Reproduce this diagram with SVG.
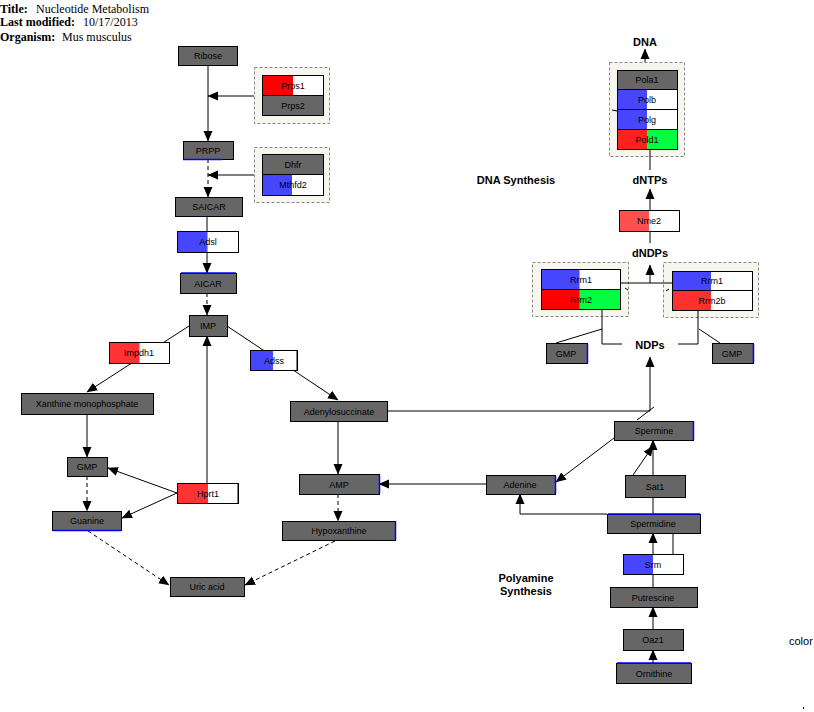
<svg xmlns="http://www.w3.org/2000/svg" width="814" height="712" viewBox="0 0 814 712">
<style>
  .box{fill:#666;stroke:#000;stroke-width:1}
  .frame{fill:none;stroke:#000;stroke-width:1}
  .wh{fill:#fff}
  .lbl{font-family:"Liberation Sans",Arial,sans-serif;font-size:9px;text-anchor:middle;fill:#000}
  .big{font-family:"Liberation Sans",Arial,sans-serif;font-size:11px;font-weight:bold;text-anchor:middle;fill:#000}
  .hdr{font-family:"Liberation Serif","Times New Roman",serif;font-size:12px;fill:#000}
  .hb{font-weight:bold}
  .note{font-family:"Liberation Sans",Arial,sans-serif;font-size:11px;fill:#000}
  .e{stroke:#000;stroke-width:1;fill:none}
  .d{stroke-dasharray:4,3}
  .grp{fill:#f6f5ee;stroke:#888;stroke-width:1;stroke-dasharray:3,2}
  .blue{stroke:#0000ff;stroke-width:1.5}
  .red{fill:#ff0000}.red2{fill:#ff3333}.pink{fill:#ff5050}
  .bl{fill:#4646ff}.gr{fill:#00ff40}
</style>
<defs>
  <marker id="ah" markerWidth="11" markerHeight="10" refX="10" refY="5" orient="auto" markerUnits="userSpaceOnUse">
    <path d="M0,0.5 L10.5,5 L0,9.5 z" fill="#000"/>
  </marker>
</defs>

<!-- header -->
<g id="header">
  <text class="hdr hb" x="0" y="13">Title:</text>
  <text class="hdr" x="36" y="13">Nucleotide Metabolism</text>
  <text class="hdr hb" x="0" y="26">Last modified:</text>
  <text class="hdr" x="83" y="26">10/17/2013</text>
  <text class="hdr hb" x="0" y="41">Organism:</text>
  <text class="hdr" x="62" y="41">Mus musculus</text>
</g>

<!-- complex outlines -->
<g id="groups">
  <rect class="grp" x="254.5" y="67.5" width="75" height="56"/>
  <rect class="grp" x="254.5" y="147.5" width="75" height="55"/>
  <rect class="grp" x="609.5" y="62.5" width="75" height="94"/>
  <rect class="grp" x="532.5" y="262.5" width="96" height="54"/>
  <rect class="grp" x="663.5" y="262.5" width="95" height="55"/>
</g>

<!-- connectors -->
<g id="connectors">
  <!-- purine synthesis -->
  <line class="e" x1="208" y1="65" x2="208" y2="141" marker-end="url(#ah)"/>
  <line class="e" x1="254" y1="96" x2="208" y2="96" marker-end="url(#ah)"/>
  <line class="e d" x1="208" y1="159" x2="208" y2="197" marker-end="url(#ah)"/>
  <line class="e" x1="254" y1="175" x2="208" y2="175" marker-end="url(#ah)"/>
  <line class="e" x1="207" y1="216" x2="207" y2="273" marker-end="url(#ah)"/>
  <line class="e d" x1="207" y1="293" x2="207" y2="315" marker-end="url(#ah)"/>
  <line class="e" x1="189" y1="326" x2="87" y2="392" marker-end="url(#ah)"/>
  <line class="e" x1="227" y1="326" x2="338" y2="400" marker-end="url(#ah)"/>
  <line class="e" x1="207" y1="483" x2="207" y2="336" marker-end="url(#ah)"/>
  <line class="e" x1="87" y1="414" x2="87" y2="457" marker-end="url(#ah)"/>
  <line class="e" x1="177" y1="493" x2="108" y2="468" marker-end="url(#ah)"/>
  <line class="e" x1="177" y1="493" x2="122" y2="518" marker-end="url(#ah)"/>
  <line class="e d" x1="87" y1="476" x2="87" y2="511" marker-end="url(#ah)"/>
  <line class="e d" x1="88" y1="531" x2="169" y2="585" marker-end="url(#ah)"/>
  <line class="e d" x1="335" y1="541" x2="245" y2="585" marker-end="url(#ah)"/>
  <line class="e" x1="338" y1="421" x2="338" y2="474" marker-end="url(#ah)"/>
  <line class="e d" x1="338" y1="494" x2="338" y2="521" marker-end="url(#ah)"/>
  <line class="e" x1="486" y1="484" x2="379" y2="484" marker-end="url(#ah)"/>

  <!-- to NDPs -->
  <polyline class="e" points="387,411 650,411 650,357" marker-end="url(#ah)"/>
  <line class="e" x1="637" y1="420" x2="654" y2="407"/>

  <!-- polyamines -->
  <line class="e" x1="614" y1="438" x2="556" y2="482" marker-end="url(#ah)"/>
  <polyline class="e" points="607,514 520,514 520,494" marker-end="url(#ah)"/>
  <line class="e" x1="653" y1="514" x2="653" y2="440" marker-end="url(#ah)"/>
  <line class="e" x1="633" y1="475" x2="653" y2="446" marker-end="url(#ah)"/>
  <line class="e" x1="653" y1="587" x2="653" y2="533" marker-end="url(#ah)"/>
  <line class="e" x1="673" y1="554" x2="673" y2="533"/>
  <line class="e" x1="653" y1="629" x2="653" y2="607" marker-end="url(#ah)"/>
  <line class="e" x1="653" y1="663" x2="653" y2="650" marker-end="url(#ah)"/>

  <!-- DNA synthesis -->
  <line class="e" x1="645" y1="62" x2="645" y2="49" marker-end="url(#ah)"/>
  <line class="e" x1="650" y1="149" x2="650" y2="170"/>
  <line class="e" x1="650" y1="210" x2="650" y2="189" marker-end="url(#ah)"/>
  <line class="e" x1="650" y1="231" x2="650" y2="243"/>
  <line class="e" x1="620" y1="283" x2="672" y2="283"/>
  <line class="e" x1="650" y1="283" x2="650" y2="265" marker-end="url(#ah)"/>
  <polyline class="e" points="602,309 602,344 622,344"/>
  <polyline class="e" points="678,344 698,344 698,310"/>
  <line class="e" x1="556" y1="343" x2="602" y2="329"/>
  <line class="e" x1="720" y1="343" x2="699" y2="329"/>
  <line class="e" x1="612" y1="110" x2="617" y2="111"/>
  <line class="e" x1="625" y1="288" x2="628" y2="290"/>
  <line class="e" x1="666" y1="291" x2="669" y2="289"/>
</g>

<!-- metabolites and gene products -->
<g id="n-ribose"><rect class="box" x="178.5" y="46.5" width="59" height="19"/><text class="lbl" x="208" y="59">Ribose</text></g>
<g id="n-prps1"><rect class="wh" x="262.5" y="75.5" width="61" height="20"/><rect class="red" x="262.5" y="75.5" width="30.5" height="20"/><rect class="frame" x="262.5" y="75.5" width="61" height="20"/><text class="lbl" x="293" y="88.5">Prps1</text></g>
<g id="n-prps2"><rect class="box" x="262.5" y="95.5" width="61" height="20"/><text class="lbl" x="293" y="108.5">Prps2</text></g>
<g id="n-prpp"><rect class="box" x="183.5" y="141.5" width="50" height="18"/><line class="blue" x1="183" y1="159.5" x2="222" y2="159.5"/><text class="lbl" x="208" y="153.5">PRPP</text></g>
<g id="n-dhfr"><rect class="box" x="262.5" y="154.5" width="61" height="20"/><text class="lbl" x="293" y="167.5">Dhfr</text></g>
<g id="n-mthfd2"><rect class="wh" x="262.5" y="174.5" width="61" height="21"/><rect class="bl" x="262.5" y="174.5" width="29.5" height="21"/><rect class="frame" x="262.5" y="174.5" width="61" height="21"/><text class="lbl" x="293" y="188">Mthfd2</text></g>
<g id="n-saicar"><rect class="box" x="175.5" y="197.5" width="67" height="19"/><text class="lbl" x="209" y="210">SAICAR</text></g>
<g id="n-adsl"><rect class="wh" x="177.5" y="231.5" width="61" height="21"/><rect class="bl" x="177.5" y="231.5" width="30" height="21"/><rect class="frame" x="177.5" y="231.5" width="61" height="21"/><text class="lbl" x="208" y="245">Adsl</text></g>
<g id="n-aicar"><rect class="box" x="180.5" y="273.5" width="56" height="20"/><line class="blue" x1="181" y1="273" x2="236" y2="273"/><text class="lbl" x="208" y="286.5">AICAR</text></g>
<g id="n-imp"><rect class="box" x="189.5" y="315.5" width="38" height="21"/><text class="lbl" x="208" y="329">IMP</text></g>
<g id="n-impdh1"><rect class="wh" x="109.5" y="342.5" width="60" height="21"/><rect class="red2" x="109.5" y="342.5" width="30" height="21"/><rect class="frame" x="109.5" y="342.5" width="60" height="21"/><text class="lbl" x="139" y="356">Impdh1</text></g>
<g id="n-adss"><rect class="wh" x="250.5" y="350.5" width="47" height="20"/><rect class="bl" x="250.5" y="350.5" width="22.5" height="20"/><rect class="frame" x="250.5" y="350.5" width="47" height="20"/><line class="e" x1="297" y1="350" x2="297" y2="371" stroke-width="1.5"/><text class="lbl" x="274" y="363.5">Adss</text></g>
<g id="n-adenylosuccinate"><rect class="box" x="290.5" y="401.5" width="97" height="20"/><text class="lbl" x="339" y="414.5">Adenylosuccinate</text></g>
<g id="n-xmp"><rect class="box" x="21.5" y="393.5" width="132" height="21"/><text class="lbl" x="87" y="407">Xanthine monophosphate</text></g>
<g id="n-gmp"><rect class="box" x="67.5" y="457.5" width="40" height="19"/><text class="lbl" x="87" y="470">GMP</text></g>
<g id="n-guanine"><rect class="box" x="52.5" y="511.5" width="69" height="19"/><line class="blue" x1="53" y1="530.5" x2="121" y2="530.5"/><text class="lbl" x="87" y="524">Guanine</text></g>
<g id="n-hprt1"><rect class="wh" x="177.5" y="483.5" width="61" height="20"/><rect class="red2" x="177.5" y="483.5" width="30.5" height="20"/><rect class="frame" x="177.5" y="483.5" width="61" height="20"/><line class="e" x1="238" y1="483" x2="238" y2="504" stroke-width="1.5"/><text class="lbl" x="208" y="496.5">Hprt1</text></g>
<g id="n-uricacid"><rect class="box" x="170.5" y="577.5" width="74" height="19"/><text class="lbl" x="207" y="590">Uric acid</text></g>
<g id="n-amp"><rect class="box" x="299.5" y="474.5" width="80" height="20"/><line class="blue" x1="379.5" y1="475" x2="379.5" y2="494"/><text class="lbl" x="339" y="487.5">AMP</text></g>
<g id="n-hypoxanthine"><rect class="box" x="282.5" y="521.5" width="113" height="19"/><line class="blue" x1="395.5" y1="521" x2="395.5" y2="540"/><text class="lbl" x="339" y="534">Hypoxanthine</text></g>
<g id="n-adenine"><rect class="box" x="486.5" y="475.5" width="69" height="19"/><line class="blue" x1="555.5" y1="476" x2="555.5" y2="494"/><text class="lbl" x="520" y="488">Adenine</text></g>

<!-- polyamine pathway -->
<g id="l-polyamine"><text class="big" x="526" y="582">Polyamine</text><text class="big" x="526" y="595">Synthesis</text></g>
<g id="n-spermine"><rect class="box" x="614.5" y="421.5" width="79" height="19"/><line class="blue" x1="693.5" y1="421" x2="693.5" y2="440"/><text class="lbl" x="654" y="434">Spermine</text></g>
<g id="n-sat1"><rect class="box" x="625.5" y="475.5" width="60" height="22"/><text class="lbl" x="655" y="489.5">Sat1</text></g>
<g id="n-spermidine"><rect class="box" x="607.5" y="514.5" width="93" height="19"/><line class="blue" x1="608" y1="514" x2="700" y2="514"/><text class="lbl" x="653" y="527">Spermidine</text></g>
<g id="n-srm"><rect class="wh" x="623.5" y="554.5" width="60" height="20"/><rect class="bl" x="623.5" y="554.5" width="29.5" height="20"/><rect class="frame" x="623.5" y="554.5" width="60" height="20"/><text class="lbl" x="653" y="567.5">Srm</text></g>
<g id="n-putrescine"><rect class="box" x="610.5" y="587.5" width="87" height="20"/><text class="lbl" x="653" y="600.5">Putrescine</text></g>
<g id="n-oaz1"><rect class="box" x="623.5" y="629.5" width="60" height="21"/><text class="lbl" x="653" y="643">Oaz1</text></g>
<g id="n-ornithine"><rect class="box" x="616.5" y="663.5" width="75" height="20"/><line class="blue" x1="617" y1="663" x2="691" y2="663"/><text class="lbl" x="654" y="676.5">Ornithine</text></g>

<!-- DNA synthesis -->
<g id="l-dna"><text class="big" x="645" y="46" font-size="12">DNA</text></g>
<g id="l-dnasynthesis"><text class="big" x="516" y="184">DNA Synthesis</text></g>
<g id="n-pola1"><rect class="box" x="617.5" y="70.5" width="60" height="19"/><text class="lbl" x="647" y="83">Pola1</text></g>
<g id="n-polb"><rect class="wh" x="617.5" y="89.5" width="60" height="20"/><rect class="bl" x="617.5" y="89.5" width="29.5" height="20"/><rect class="frame" x="617.5" y="89.5" width="60" height="20"/><text class="lbl" x="647" y="102.5">Polb</text></g>
<g id="n-polg"><rect class="wh" x="617.5" y="109.5" width="60" height="20"/><rect class="bl" x="617.5" y="109.5" width="29.5" height="20"/><rect class="frame" x="617.5" y="109.5" width="60" height="20"/><text class="lbl" x="647" y="122.5">Polg</text></g>
<g id="n-pold1"><rect class="gr" x="617.5" y="129.5" width="60" height="20"/><rect fill="#ff2020" x="617.5" y="129.5" width="29.5" height="20"/><rect class="frame" x="617.5" y="129.5" width="60" height="20"/><text class="lbl" x="647" y="142.5">Pold1</text></g>
<g id="l-dntps"><text class="big" x="650" y="184">dNTPs</text></g>
<g id="n-nme2"><rect class="wh" x="619.5" y="210.5" width="60" height="21"/><rect class="pink" x="619.5" y="210.5" width="29.5" height="21"/><rect class="frame" x="619.5" y="210.5" width="60" height="21"/><text class="lbl" x="649" y="224">Nme2</text></g>
<g id="l-dndps"><text class="big" x="650" y="257">dNDPs</text></g>
<g id="n-rrm1a"><rect class="wh" x="541.5" y="269.5" width="79" height="20"/><rect class="bl" x="541.5" y="269.5" width="38" height="20"/><rect class="frame" x="541.5" y="269.5" width="79" height="20"/><text class="lbl" x="581" y="282.5">Rrm1</text></g>
<g id="n-rrm2"><rect class="gr" x="541.5" y="289.5" width="79" height="20"/><rect class="red" x="541.5" y="289.5" width="38" height="20"/><rect class="frame" x="541.5" y="289.5" width="79" height="20"/><text class="lbl" x="581" y="302.5">Rrm2</text></g>
<g id="n-rrm1b"><rect class="wh" x="672.5" y="271.5" width="80" height="19"/><rect class="bl" x="672.5" y="271.5" width="38.5" height="19"/><rect class="frame" x="672.5" y="271.5" width="80" height="19"/><text class="lbl" x="712" y="284">Rrm1</text></g>
<g id="n-rrm2b"><rect class="wh" x="672.5" y="290.5" width="80" height="20"/><rect fill="#ff3030" x="672.5" y="290.5" width="38.5" height="20"/><rect class="frame" x="672.5" y="290.5" width="80" height="20"/><text class="lbl" x="712" y="303.5">Rrm2b</text></g>
<g id="l-ndps"><text class="big" x="650" y="349" font-size="12">NDPs</text></g>
<g id="n-gmp-l"><rect class="box" x="546.5" y="343.5" width="41" height="20"/><line class="blue" x1="587.5" y1="344" x2="587.5" y2="363"/><text class="lbl" x="566" y="356.5">GMP</text></g>
<g id="n-gmp-r"><rect class="box" x="712.5" y="343.5" width="41" height="20"/><line class="blue" x1="753.5" y1="344" x2="753.5" y2="363"/><text class="lbl" x="732" y="356.5">GMP</text></g>

<g id="l-color"><text class="note" x="789" y="645">color</text></g>
<rect x="803" y="707" width="1" height="2" fill="#000"/>
</svg>
